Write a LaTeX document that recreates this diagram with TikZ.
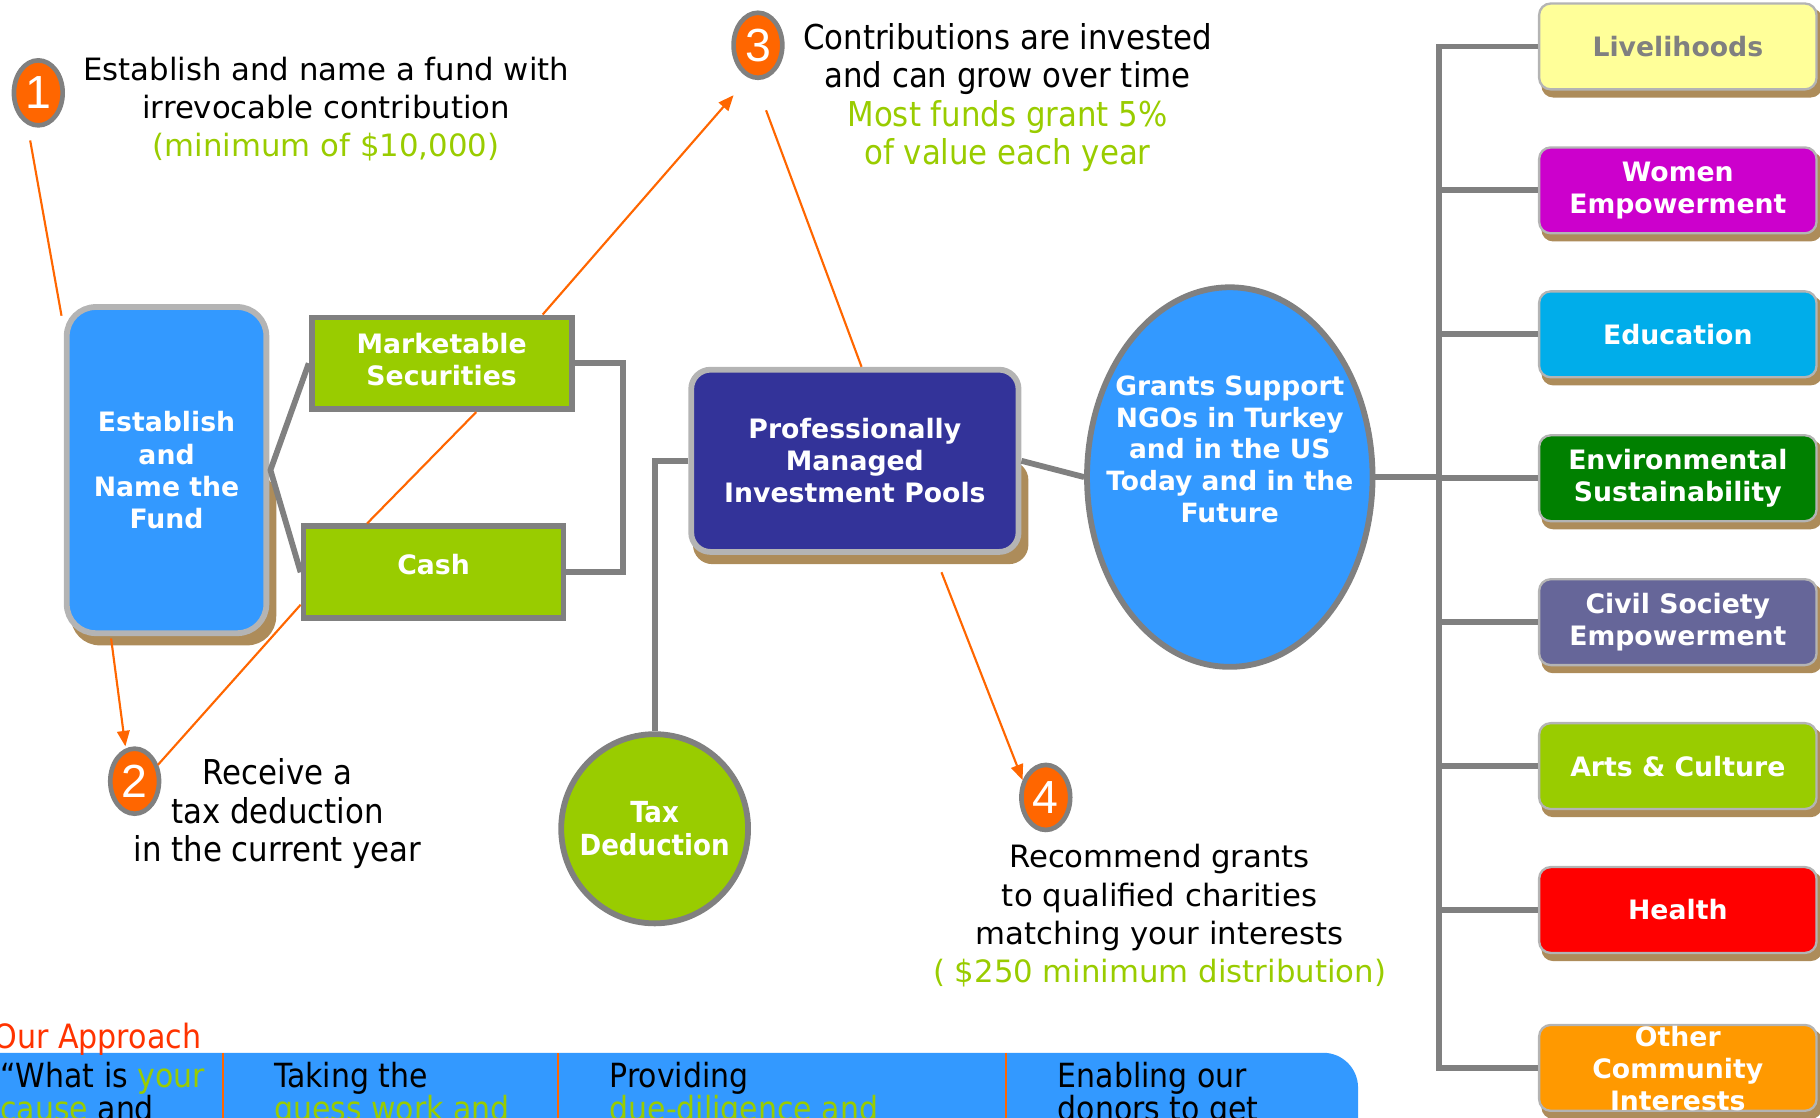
\documentclass[tikz,border=0pt]{standalone}
\usepackage{fontspec}
\usetikzlibrary{shapes.geometric,arrows.meta,calc,backgrounds}
\newfontfamily\verd{DejaVu Sans}
\newfontfamily\cond{DejaVu Sans Condensed}
\newfontfamily\arialf{Liberation Sans}
\definecolor{bluef}{HTML}{3399FF}
\definecolor{navyf}{HTML}{333399}
\definecolor{greenf}{HTML}{99CC00}
\definecolor{orangef}{HTML}{FF6600}
\definecolor{greyl}{HTML}{808080}
\definecolor{lgrey}{HTML}{B4B4B4}
\definecolor{shad}{HTML}{AD8C5A}
\definecolor{livf}{HTML}{FFFF99}
\definecolor{womf}{HTML}{CC00CC}
\definecolor{eduf}{HTML}{00ADEA}
\definecolor{envf}{HTML}{008000}
\definecolor{civf}{HTML}{666699}
\definecolor{healf}{HTML}{FF0000}
\definecolor{othf}{HTML}{FF9900}
\definecolor{redt}{HTML}{FF3300}
\begin{document}
\begin{tikzpicture}[x=0.6pt,y=-0.6pt,
  gline/.style={draw=greyl, line width=3pt},
  oline/.style={draw=orangef, line width=1.1pt},
  arr/.style={-{Triangle[length=8pt,width=6.5pt]}},
  badge/.style={ellipse, draw=greyl, line width=2.4pt, fill=orangef, minimum width=25.2pt, minimum height=33.6pt, inner sep=0pt, text=white, font=\arialf\fontsize{24}{24}\selectfont},
  bigbox/.style={rectangle, rounded corners=15pt, draw=lgrey, line width=3pt, text=white, align=center, font=\verd\bfseries\fontsize{13.8}{16.6}\selectfont},
  greenbox/.style={rectangle, draw=greyl, line width=3pt, fill=greenf, minimum width=134.4pt, minimum height=47.4pt, inner sep=0pt},
  boxtext/.style={text=white, align=center, inner sep=0pt, font=\verd\bfseries\fontsize{13.8}{16.6}\selectfont},
  catbox/.style={rectangle, rounded corners=6pt, draw=lgrey, line width=1.2pt, minimum width=143.4pt, minimum height=44.4pt, inner sep=0pt, text=white, align=center, font=\verd\bfseries\fontsize{13.8}{16.6}\selectfont},
  stept/.style={align=center, inner sep=0pt, font=\verd\fontsize{15.9}{19.8}\selectfont},
  condt/.style={align=center, inner sep=0pt, font=\cond\fontsize{17.7}{19.8}\selectfont},
  bandt/.style={inner sep=0pt, anchor=base west, font=\cond\fontsize{17.2}{17.2}\selectfont}
]
\useasboundingbox (0,0) rectangle (1568,963);
\clip (0,0) rectangle (1568,963);

% main shapes
\node[bigbox, fill=bluef, minimum width=103.2pt, minimum height=168.6pt] (fund) at (143.5,405) {Establish\\and\\Name the\\Fund};
\node[bigbox, fill=navyf, rounded corners=10pt, minimum width=169.2pt, minimum height=94.2pt] (prof) at (736.5,397) {Professionally\\Managed\\Investment Pools};
\node[greenbox] (ms) at (380.5,313) {};
\node[boxtext] (msT) at (380.5,310) {Marketable\\Securities};
\node[greenbox] (cash) at (373.5,493) {};
\node[boxtext] (cashT) at (373.5,486) {Cash};
\node[ellipse, draw=greyl, line width=3pt, fill=bluef, minimum width=147.6pt, minimum height=196.2pt, inner sep=0pt] (grants) at (1059.5,411) {};
\node[boxtext, font=\verd\bfseries\fontsize{13.7}{16.4}\selectfont] (grantsT) at (1059.5,387) {Grants Support\\NGOs in Turkey\\and in the US\\Today and in the\\Future};
\node[ellipse, draw=greyl, line width=3pt, fill=greenf, minimum width=96.6pt, minimum height=97.8pt, inner sep=0pt] (tax) at (564,714) {};
\node[boxtext, font=\cond\bfseries\fontsize{15}{16.8}\selectfont] (taxT) at (564,714) {Tax\\Deduction};

% category boxes
\node[catbox, fill=livf, text=greyl] (liv) at (1445.5,40) {Livelihoods};
\node[catbox, fill=womf] (wom) at (1445.5,164) {Women\\Empowerment};
\node[catbox, fill=eduf] (edu) at (1445.5,288) {Education};
\node[catbox, fill=envf] (env) at (1445.5,412) {Environmental\\Sustainability};
\node[catbox, fill=civf] (civ) at (1445.5,536) {Civil Society\\Empowerment};
\node[catbox, fill=greenf] (art) at (1445.5,660) {Arts \& Culture};
\node[catbox, fill=healf] (hea) at (1445.5,784) {Health};
\node[catbox, fill=othf] (oth) at (1445.5,920) {};
\node[boxtext] (othT) at (1445.5,920.5) {Other\\Community\\Interests};

% badges
\node[badge] (b1) at (33,80) {1};
\node[badge] (b2) at (116,673) {2};
\node[badge] (b3) at (653,39) {3};
\node[badge] (b4) at (901,687) {4};

% step texts
\node[stept] (t1) at (281,94) {Establish and name a fund with\\irrevocable contribution\\\textcolor{greenf}{(minimum of \$10,000)}};
\node[condt] (t3) at (868,84) {Contributions are invested\\and can grow over time\\\textcolor{greenf}{Most funds grant 5\%}\\\textcolor{greenf}{of value each year}};
\node[condt] (t2) at (239,701) {Receive a\\tax deduction\\in the current year};
\node[stept] (t4) at (999,789) {Recommend grants\\to qualified charities\\matching your interests\\\textcolor{greenf}{( \$250 minimum distribution)}};

% shadows
\begin{pgfonlayer}{background}
\fill[shad, rounded corners=15pt] ($(fund.west)+(6,0)$) rectangle ($(fund.south east)+(6,8)$);
\fill[shad, rounded corners=10pt] ($(prof.west)+(4,0)$) rectangle ($(prof.south east)+(6,8)$);
\foreach \n in {liv,wom,edu,env,civ,art,hea,oth}
  \fill[shad, rounded corners=6pt] ($(\n.north west)+(3,5)$) rectangle ($(\n.south east)+(4,6)$);
\end{pgfonlayer}

% grey connectors
\draw[gline, line join=round] (ms.west) -- ($(fund.east)+(1,0)$) -- (cash.west);
\draw[gline] (ms.east) -- ++(42,0) |- (cash.east);
\draw[gline] (prof.west) -| (tax.north);
\draw[gline] (prof.east) -- (grants.west);
\coordinate (tx) at (1240,0);
\draw[gline] (grants.east) -- (grants.east -| tx);
\draw[gline] (liv.west) -- (liv.west -| tx) -- (oth.west -| tx) -- (oth.west);
\foreach \n in {wom,edu,env,civ,art,hea}
  \draw[gline] (\n.west -| tx) -- (\n.west);

% orange connectors
\draw[oline] ($(b1.center)+(-7,41)$) -- ($(fund.north west)+(-2,10)$);
\draw[oline, arr] ($(ms.north west)!0.88!(ms.north east)$) -- ($(b3.center)+(-21,43)$);
\draw[oline] ($(ms.south west)!0.63!(ms.south east)$) -- ($(cash.north west)!0.25!(cash.north east)$);
\draw[oline, arr] ($(fund.south west)!0.23!(fund.south east)+(0,2)$) -- ($(b2.north)+(-8,0)$);
\draw[oline] ($(cash.south west)+(0,-14)$) -- ($(b2.center)+(20,-14)$);
\draw[oline] ($(prof.north west)!0.52!(prof.north east)$) -- ($(b3.center)+(7,56)$);
\draw[oline, arr] ($(prof.south west)!0.76!(prof.south east)+(0,15)$) -- ($(b4.center)+(-20,-15)$);

% bottom band
\begin{scope}
\clip (-10,900) rectangle (1568,963);
\fill[bluef, rounded corners=18pt] (-60,907) rectangle (1170,1020);
\end{scope}
\foreach \xx in {192,481,867}
  \draw[oline] (\xx,907) -- (\xx,963);
\node[bandt, font=\cond\fontsize{17.3}{17.3}\selectfont] (ap) at (-6,903) {\textcolor{redt}{Our Approach}};
\node[bandt] (c1a) at (0,937) {“What is \textcolor{greenf}{your}};
\node[bandt] (c1b) at (0,965) {\textcolor{greenf}{cause} and};
\node[bandt] (c2a) at (236,937) {Taking the};
\node[bandt] (c2b) at (236,965) {\textcolor{greenf}{guess work and}};
\node[bandt] (c3a) at (525,937) {Providing};
\node[bandt] (c3b) at (525,965) {\textcolor{greenf}{due-diligence and}};
\node[bandt] (c4a) at (911,937) {Enabling our};
\node[bandt] (c4b) at (911,965) {donors to get};
\end{tikzpicture}
\end{document}
